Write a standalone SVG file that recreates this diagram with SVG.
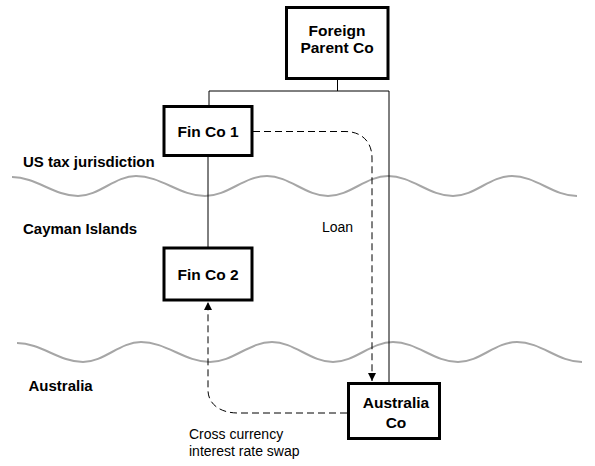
<svg xmlns="http://www.w3.org/2000/svg" width="595" height="466" viewBox="0 0 595 466">
<style>
.box{fill:#fff;stroke:#000;stroke-width:3}
.bt{font-family:"Liberation Sans",Arial,sans-serif;font-weight:bold;font-size:15px;fill:#000}
.bb{font-size:15.5px}
.rt{font-family:"Liberation Sans",Arial,sans-serif;font-size:14px;fill:#000}
.wave{fill:none;stroke:#a6a6a6;stroke-width:2}
.ln{fill:none;stroke:#000;stroke-width:1}
.dash{fill:none;stroke:#000;stroke-width:1;stroke-dasharray:7 4}
</style>
<defs>
<marker id="arr" markerUnits="userSpaceOnUse" markerWidth="8" markerHeight="8" refX="8" refY="4" orient="auto">
<path d="M0,0 L8,4 L0,8 z" fill="#000"/>
</marker>
<path id="wv" d="M12,177 C36,177 54,196 78,196 C99,196 115,176 136,176 C161,176 180,196 205,196 C228,196 244,176 267,176 C289,176 306,196 328,196 C350,196 366,176 388,176 C412,176 429,196 453,196 C475,196 490,176 512,176 C536,176 553,196 577,196"/>
</defs>
<g id="waves">
<use href="#wv" class="wave"/>
<use href="#wv" class="wave" transform="translate(5,166)"/>
</g>
<g id="regions">
<text class="bt" x="23" y="167">US tax jurisdiction</text>
<text class="bt" x="23" y="234">Cayman Islands</text>
<text class="bt" x="28.5" y="391">Australia</text>
</g>
<g id="connectors">
<path class="ln" d="M337.5,80 V91 M209,91 H389 M209,91 V105 M389,91 V382 M208,157 V247"/>
<path class="dash" d="M253,131.5 H345 C362,131.5 372,142 372,158 V381" marker-end="url(#arr)"/>
<path class="dash" d="M347,413 H238 C220,413 208,404 208,390 V302" marker-end="url(#arr)"/>
<text class="rt" x="322" y="232">Loan</text>
<text class="rt" x="189" y="439">Cross currency</text>
<text class="rt" x="189" y="456">interest rate swap</text>
</g>
<g id="parent">
<rect class="box" x="286.5" y="7.5" width="101.5" height="71"/>
<text class="bt bb" x="337" y="35.5" text-anchor="middle">Foreign</text>
<text class="bt bb" x="337" y="52.5" text-anchor="middle">Parent Co</text>
</g>
<g id="finco1">
<rect class="box" x="164" y="106.5" width="88" height="49"/>
<text class="bt bb" x="208" y="137" text-anchor="middle">Fin Co 1</text>
</g>
<g id="finco2">
<rect class="box" x="164" y="248" width="88" height="52"/>
<text class="bt bb" x="208" y="280" text-anchor="middle">Fin Co 2</text>
</g>
<g id="ausco">
<rect class="box" x="348.5" y="383.5" width="91" height="55"/>
<text class="bt bb" x="396" y="408" text-anchor="middle">Australia</text>
<text class="bt bb" x="396" y="428" text-anchor="middle">Co</text>
</g>
</svg>
